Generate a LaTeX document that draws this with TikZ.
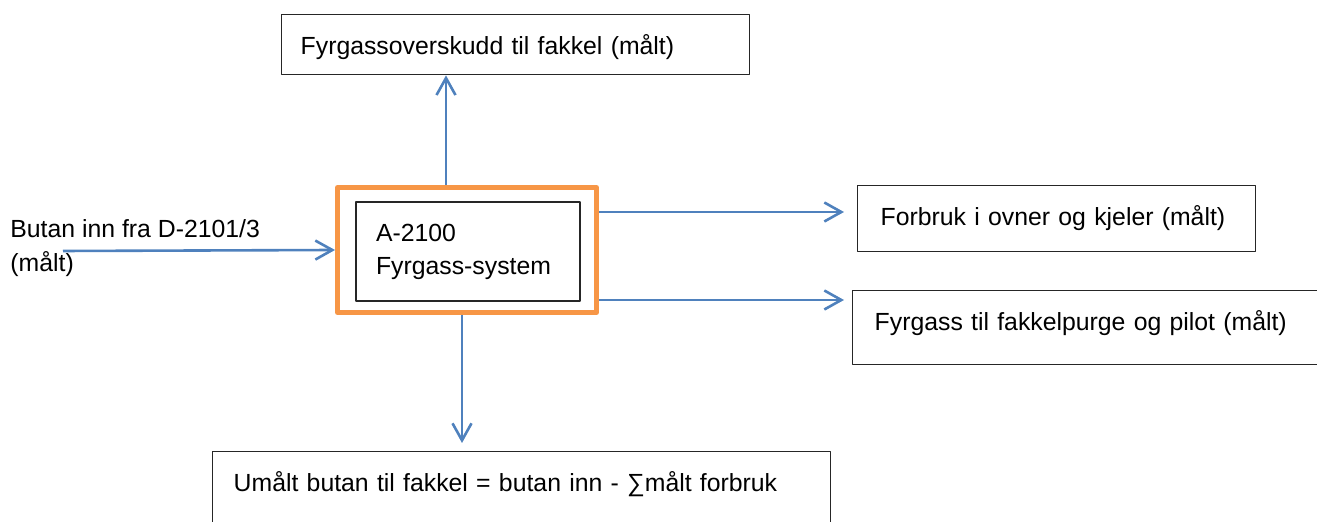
\documentclass[tikz,border=0pt]{standalone}
\usepackage{fontspec}
\setmainfont{Liberation Sans}
\usetikzlibrary{arrows.meta,calc}
\definecolor{oransje}{HTML}{F79646}
\definecolor{blaa}{HTML}{4F81BD}
\begin{document}
\begin{tikzpicture}[x=0.5pt,y=-0.5pt,line join=round,
		font=\fontsize{12.4pt}{16.5pt}\selectfont,
		boks/.style={draw=black!85,line width=0.7pt,anchor=north west,align=left,inner ysep=0pt,text height=20pt},
		flyt/.style={draw=blaa,line width=1.3pt,-{Straight Barb[length=8.5pt,width=9.5pt,line width=1.3pt]}}]
	\useasboundingbox (0,0) rectangle (1317,522);
	\clip (0,0) rectangle (1317,522);
	% systemet i midten
	\node[draw=oransje,line width=2.5pt,minimum width=129.5pt,minimum height=62.5pt] (sys) at (467,250) {};
	\node[draw=black!85,line width=0.7pt,align=left,text width=92pt,inner xsep=10pt,minimum height=49.5pt] (a2100) at (468,251.5) {A-2100\\Fyrgass-system};
	% boksene rundt
	\node[boks,text width=215pt,inner xsep=9.5pt,text depth=10pt] (fakkel) at (281,14) {Fyrgassoverskudd til fakkel (målt)};
	\node[boks,text width=176pt,inner xsep=11.5pt,text depth=13pt] (ovner) at (857,185) {Forbruk i ovner og kjeler (målt)};
	\node[boks,text width=222pt,inner xsep=11pt,text depth=17pt] (pilot) at (852,290) {Fyrgass til fakkelpurge og pilot (målt)};
	\node[boks,text width=288pt,inner xsep=10.5pt,text depth=27pt] (umaalt) at (212,451) {Umålt butan til fakkel = butan inn - ∑målt forbruk};
	\node[anchor=west,align=left,inner sep=0pt,font=\fontsize{12.4pt}{17pt}\selectfont] (butan) at (10,248) {Butan inn fra D-2101/3\\(målt)};
	% strømmene
	\coordinate (inn) at (63,251);
	\draw[flyt] (inn) -- (sys.west);
	\draw[flyt] ($(sys.north)+(-21,0)$) coordinate (opp) -- (opp |- fakkel.south);
	\draw[flyt,shorten >=6.5pt] ($(sys.east)+(0,-38)$) coordinate (h1) -- (h1 -| ovner.west);
	\draw[flyt,shorten >=4pt] ($(sys.east)+(0,50)$) coordinate (h2) -- (h2 -| pilot.west);
	\draw[flyt,shorten >=4pt] ($(sys.south)+(-5,0)$) coordinate (ned) -- (ned |- umaalt.north);
\end{tikzpicture}
\end{document}
